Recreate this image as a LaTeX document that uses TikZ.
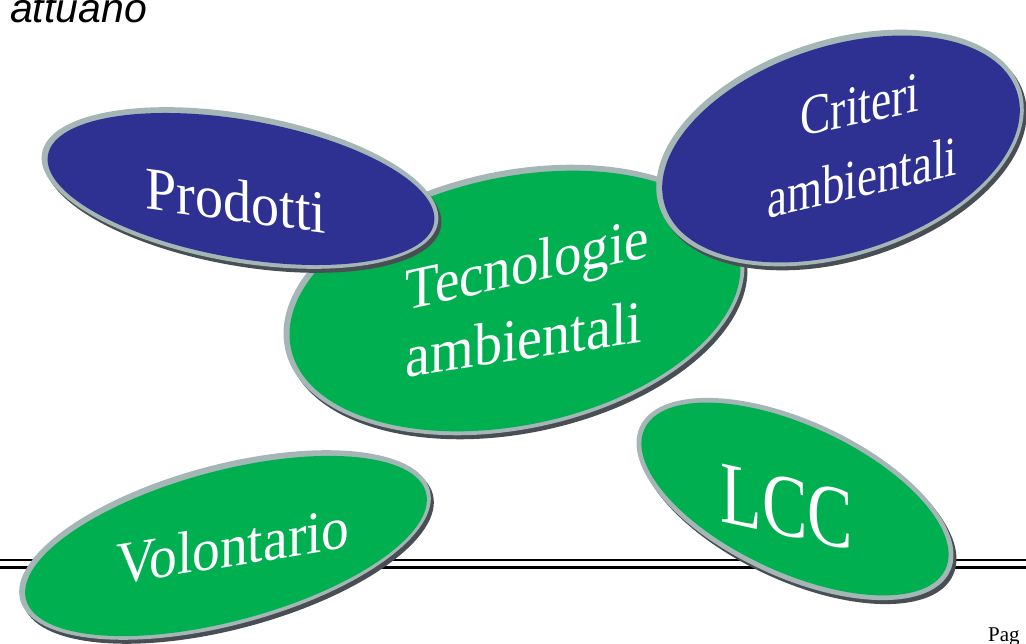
\documentclass[tikz,border=0pt]{standalone}
\usepackage{fontspec}
\setmainfont{Liberation Serif}
\newfontfamily\arialfont{Liberation Sans}
\usetikzlibrary{shapes.geometric}
\definecolor{pblue}{RGB}{46,49,146}
\definecolor{pgreen}{RGB}{0,176,80}
\definecolor{rimlight}{RGB}{165,182,182}
\definecolor{rimdark}{RGB}{72,78,84}
\begin{document}
\begin{tikzpicture}[x=1pt,y=-1pt,
  blobshadow/.style={ellipse, inner sep=0pt, outer sep=0pt, fill=rimdark},
  blobrim/.style={ellipse, inner sep=0pt, outer sep=0pt, fill=rimlight},
  bluebody/.style={ellipse, inner sep=0pt, outer sep=0pt, fill=pblue},
  greenbody/.style={ellipse, inner sep=0pt, outer sep=0pt, fill=pgreen},
  blobtext/.style={text=white, inner sep=0pt, anchor=base},
  rulebar/.style={draw=black}
]
\useasboundingbox (0,0) rectangle (1026,644);
\clip (0,0) rectangle (1026,644);

% double rule
\coordinate (r1a) at (0,559.5);
\coordinate (r1b) at (1026,559.5);
\coordinate (r2a) at (0,567.5);
\coordinate (r2b) at (1026,567.5);
\draw[rulebar, line width=2pt] (r1a) -- (r1b);
\draw[rulebar, line width=2.6pt] (r2a) -- (r2b);

% Volontario
\node[blobshadow, minimum width=424pt, minimum height=160pt, rotate=15] (volS) at (228,549) {};
\node[blobrim, minimum width=424pt, minimum height=160pt, rotate=15] (volR) at (225,545) {};
\node[greenbody, minimum width=414pt, minimum height=150pt, rotate=15] (vol) at (226,546) {};
\node[blobtext, yslant=0.16, font=\fontsize{55.5}{60}\selectfont] (volT) at (233,566) {\scalebox{1}[1.08]{Volontario}};

% LCC
\node[blobshadow, minimum width=342pt, minimum height=156pt, rotate=-25] (lccS) at (798,503) {};
\node[blobrim, minimum width=342pt, minimum height=156pt, rotate=-25] (lccR) at (795,499) {};
\node[greenbody, minimum width=332pt, minimum height=146pt, rotate=-25] (lcc) at (795,499) {};
\node[blobtext, yslant=-0.22, font=\fontsize{68}{72}\selectfont] (lccT) at (787,536) {\scalebox{1}[1.3]{LCC}};

% Tecnologie ambientali
\node[blobshadow, minimum width=468pt, minimum height=258pt, rotate=12] (tecS) at (517,304) {};
\node[blobrim, minimum width=468pt, minimum height=258pt, rotate=12] (tecR) at (514,300) {};
\node[greenbody, minimum width=458pt, minimum height=248pt, rotate=12] (tec) at (515,301) {};
\node[blobtext, yslant=0.22, font=\fontsize{55}{60}\selectfont] (tecT1) at (527,283.5) {\scalebox{1}[1.08]{Tecnologie}};
\node[blobtext, yslant=0.15, font=\fontsize{56}{60}\selectfont] (tecT2) at (524,359.5) {\scalebox{1}[1.08]{ambientali}};

% Prodotti
\node[blobshadow, minimum width=402pt, minimum height=148pt, rotate=-10] (proS) at (243,192) {};
\node[blobrim, minimum width=402pt, minimum height=148pt, rotate=-10] (proR) at (240,188) {};
\node[bluebody, minimum width=392pt, minimum height=138pt, rotate=-10] (pro) at (241,189) {};
\node[blobtext, yslant=-0.135, font=\fontsize{56}{60}\selectfont] (proT) at (236,221) {\scalebox{1}[1.08]{Prodotti}};

% Criteri ambientali
\node[blobshadow, minimum width=380pt, minimum height=216pt, rotate=18] (criS) at (843,152) {};
\node[blobrim, minimum width=380pt, minimum height=216pt, rotate=18] (criR) at (840,148) {};
\node[bluebody, minimum width=370pt, minimum height=206pt, rotate=18] (cri) at (841,149) {};
\node[blobtext, yslant=0.215, font=\fontsize{45.5}{50}\selectfont] (criT1) at (860,124) {\scalebox{1}[1.25]{Criteri}};
\node[blobtext, yslant=0.227, font=\fontsize{45}{50}\selectfont] (criT2) at (862,196.5) {\scalebox{1}[1.25]{ambientali}};

% page texts
\node[anchor=base west, inner sep=0pt, font=\arialfont\itshape\fontsize{41}{45}\selectfont] (att) at (10,23) {attuano};
\node[anchor=base west, inner sep=0pt, font=\fontsize{21}{24}\selectfont] (pag) at (988,641) {Pag};
\end{tikzpicture}
\end{document}
